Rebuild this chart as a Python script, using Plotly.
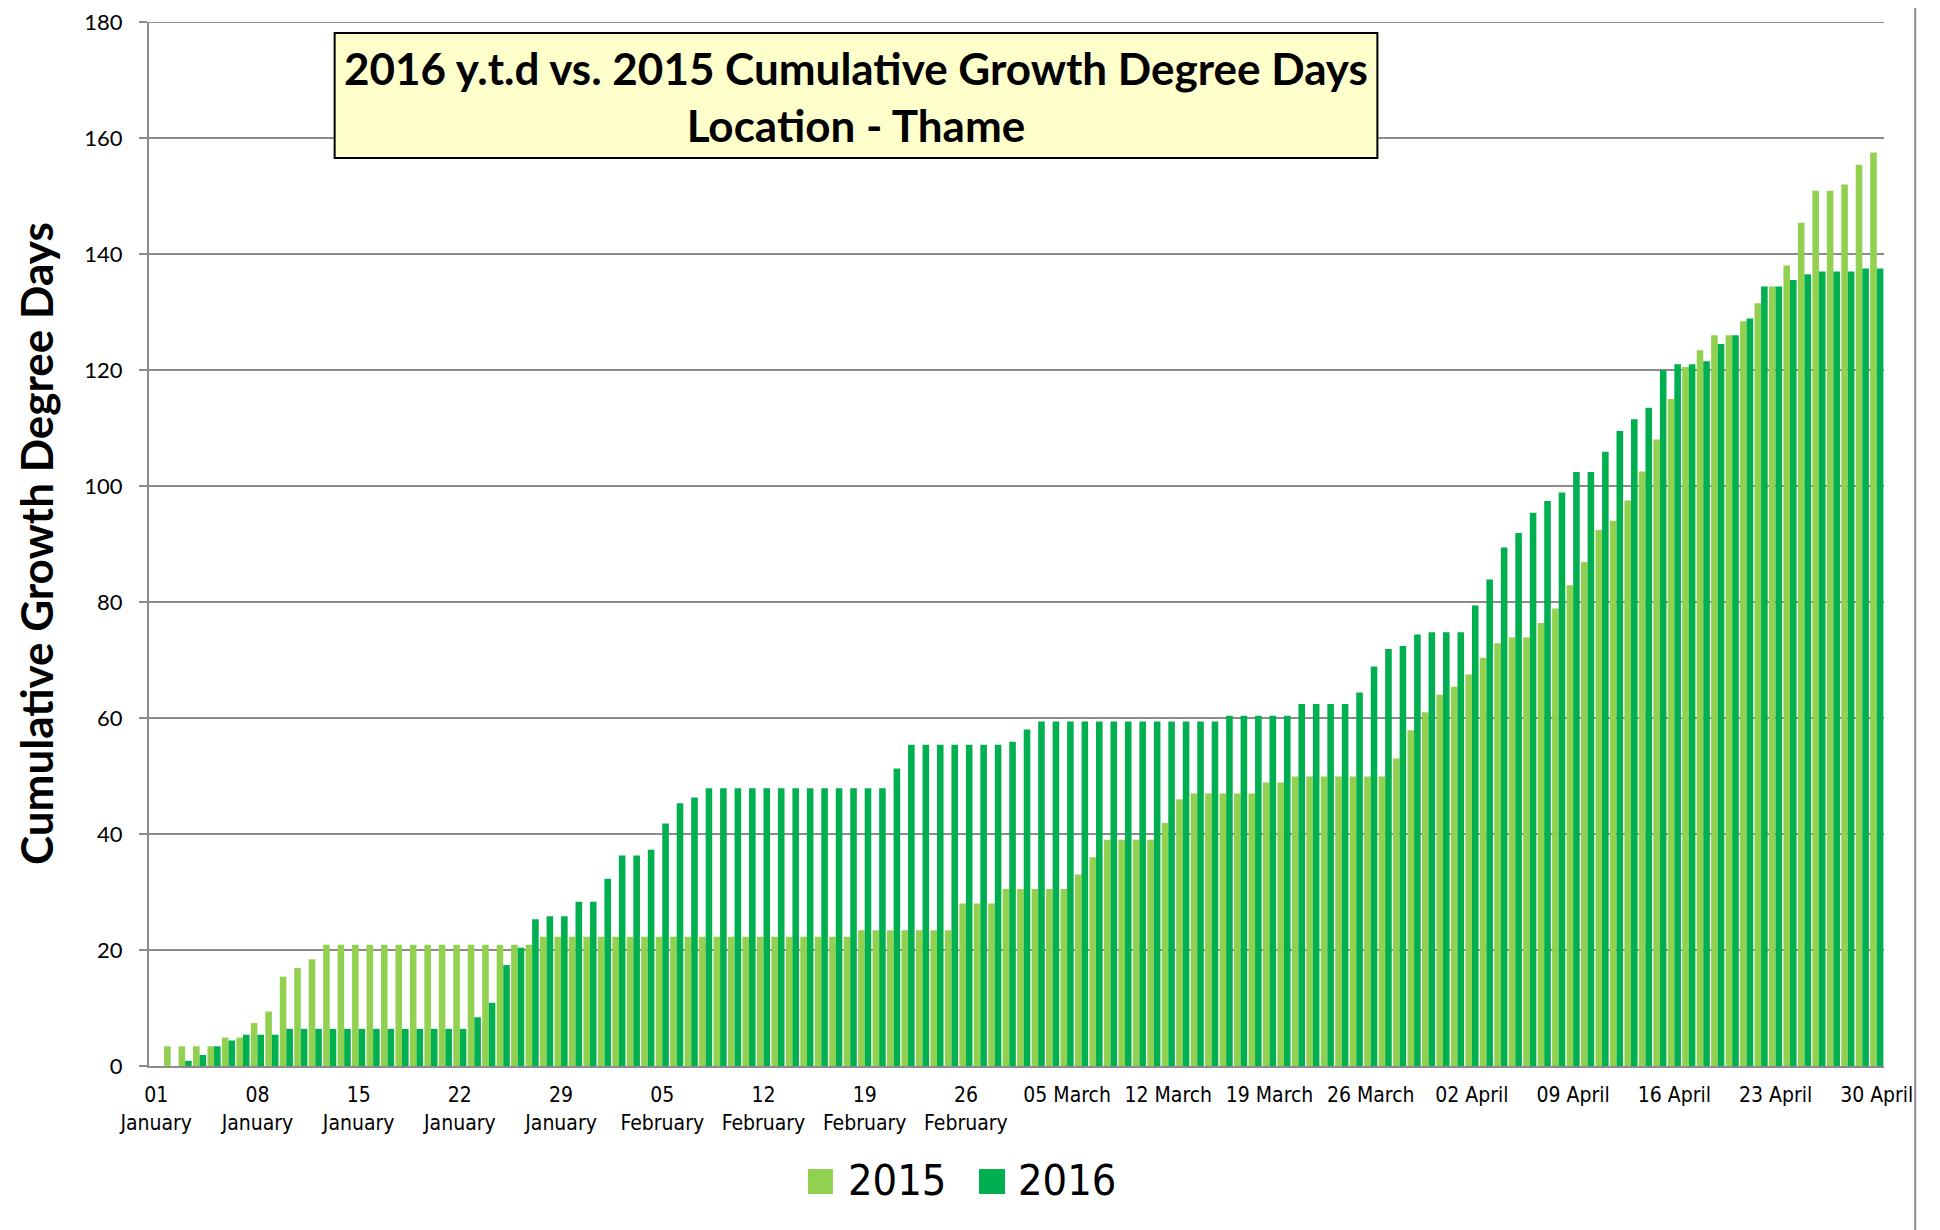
import pandas as pd
import plotly.graph_objects as go

# Categories: one per day, 01 January - 30 April
days = [d.strftime("%d %B") for d in pd.date_range("2015-01-01", "2015-04-30", freq="D")]

# Cumulative growth degree days, 2015 (light green)
gdd_2015 = (
    [0, 3.4, 3.4, 3.4, 3.4, 4.9, 4.9, 7.4, 9.4, 15.4, 16.9, 18.4]
    + [20.9] * 15
    + [22.3] * 22
    + [23.4] * 7
    + [28.0] * 3
    + [30.5] * 5
    + [33.0, 36.0]
    + [39.0] * 4
    + [41.9, 46.0]
    + [47.0] * 5
    + [48.9] * 2
    + [49.9] * 7
    + [53.0, 57.9, 61.0, 64.0, 65.4, 67.5, 70.4, 72.9]
    + [73.9] * 2
    + [76.4, 78.9, 82.9, 86.9, 92.4, 94.0, 97.5, 102.5, 108.0, 115.0, 120.5, 123.4]
    + [126.0] * 2
    + [128.4, 131.5, 134.4, 138.0, 145.4]
    + [150.9] * 2
    + [152.0, 155.4, 157.5]
)

# Cumulative growth degree days, 2016 y.t.d (dark green)
gdd_2016 = (
    [0, 0, 0.9, 1.9, 3.4, 4.4]
    + [5.4] * 3
    + [6.4] * 13
    + [8.4, 10.9, 17.4, 20.4, 25.3]
    + [25.8] * 2
    + [28.3] * 2
    + [32.3]
    + [36.3] * 2
    + [37.3, 41.8, 45.3, 46.3]
    + [47.9] * 13
    + [51.3]
    + [55.4] * 7
    + [55.9, 58.0]
    + [59.4] * 13
    + [60.4] * 5
    + [62.4] * 4
    + [64.4, 68.9, 71.9, 72.4, 74.4]
    + [74.8] * 3
    + [79.4, 83.9, 89.4, 91.9, 95.4, 97.4, 98.9]
    + [102.4] * 2
    + [105.9, 109.5, 111.5, 113.5, 120.0]
    + [121.0] * 2
    + [121.5, 124.5, 126.0, 128.9]
    + [134.4] * 2
    + [135.5, 136.5]
    + [137.0] * 3
    + [137.5] * 2
)

# Tick labels (every 7th day)
tick_idx = list(range(0, len(days), 7))
tick_text = [
    "01<br>January", "08<br>January", "15<br>January", "22<br>January", "29<br>January",
    "05<br>February", "12<br>February", "19<br>February", "26<br>February",
    "05 March", "12 March", "19 March", "26 March",
    "02 April", "09 April", "16 April", "23 April", "30 April",
]
tick_vals = [days[i] for i in tick_idx]
y_ticks = list(range(0, 181, 20))
series_names = ["2015", "2016"]

C2015 = "#92D050"
C2016 = "#00B050"
GRID = "#8C8C8C"
TICKFONT = "DejaVu Sans Condensed, DejaVu Sans"
YFONT = "Lato"
BOLD = "Lato"

fig = go.Figure()
fig.add_trace(go.Bar(x=days, y=gdd_2015, name=series_names[0], showlegend=False,
                     marker=dict(color=C2015, line=dict(width=0))))
fig.add_trace(go.Bar(x=days, y=gdd_2016, name=series_names[1], showlegend=False,
                     marker=dict(color=C2016, line=dict(width=0))))

n = len(days)
boundaries = [i - 0.5 for i in range(0, n, 7)]

# legend drawn as swatches + text below the plot
legend_shapes = []
legend_annots = []
for (x0, x1, xt), name, col in zip([(0.3798, 0.3942, 0.4015), (0.4784, 0.4934, 0.4995)],
                                   series_names, [C2015, C2016]):
    legend_shapes.append(dict(type="rect", xref="paper", yref="paper", x0=x0, x1=x1,
                              y0=-0.1226, y1=-0.0987, fillcolor=col, line=dict(width=0)))
    legend_annots.append(dict(xref="paper", yref="paper", x=xt, y=-0.1090, xanchor="left",
                              yanchor="middle", text=name, showarrow=False,
                              font=dict(family=TICKFONT, size=43, color="black")))

fig.update_layout(
    width=1932, height=1222,
    margin=dict(l=141, r=56, t=14, b=164, autoexpand=False),
    paper_bgcolor="white", plot_bgcolor="white",
    barmode="group", bargap=0.09, bargroupgap=0,
    showlegend=False,
    xaxis=dict(
        type="category", range=[-0.5, n - 0.5],
        tickmode="array", tickvals=tick_vals, ticktext=tick_text,
        ticks="outside", ticklen=9, tickcolor="rgba(0,0,0,0)",
        tickfont=dict(family=TICKFONT, size=21, color="black"),
        tickangle=0, ticklabeloverflow="allow",
        showline=True, linecolor=GRID, linewidth=2,
        showgrid=False, zeroline=False,
    ),
    xaxis2=dict(
        overlaying="x", anchor="y", side="bottom",
        range=[-0.5, n - 0.5],
        tickmode="array", tickvals=boundaries, ticktext=[""] * len(boundaries),
        ticks="outside", ticklen=7, tickwidth=2, tickcolor=GRID,
        showticklabels=False, showgrid=False, zeroline=False, showline=False,
    ),
    yaxis=dict(
        range=[0, 180], tickmode="array", tickvals=y_ticks,
        ticks="outside", ticklen=8, tickwidth=2, tickcolor=GRID,
        tickfont=dict(family=YFONT, size=22, color="black"),
        ticklabelstandoff=12, ticklabeloverflow="allow",
        showline=True, linecolor=GRID, linewidth=2,
        showgrid=True, gridcolor=GRID, gridwidth=2,
        zeroline=False,
    ),
    shapes=[
        # top gridline of the value axis (at the last y tick)
        dict(type="line", xref="paper", yref="y", x0=0, x1=1, y0=y_ticks[-1], y1=y_ticks[-1],
             line=dict(color=GRID, width=2), layer="below"),
        dict(type="rect", xref="paper", yref="paper", x0=0.107, x1=0.708, y0=0.8697, y1=0.9895,
             fillcolor="#FFFFCC", line=dict(color="black", width=2), layer="above"),
        dict(type="line", xref="paper", yref="paper", x0=1.018, x1=1.018, y0=-0.16, y1=1.02,
             line=dict(color=GRID, width=2)),
    ] + legend_shapes,
    annotations=[
        dict(xref="paper", yref="paper", x=0.4075, y=0.9285, xanchor="center", yanchor="middle",
             text="2016 y.t.d vs. 2015 Cumulative Growth Degree Days<br>Location - Thame",
             showarrow=False, font=dict(family=BOLD, size=44, color="black", weight="bold"),
             align="center"),
        dict(xref="paper", yref="paper", x=-0.0651, y=0.5, xanchor="center", yanchor="middle",
             text="Cumulative Growth Degree Days", textangle=-90, showarrow=False,
             font=dict(family=BOLD, size=44, color="black", weight="bold")),
    ] + legend_annots,
)

fig.write_html("out.html")
